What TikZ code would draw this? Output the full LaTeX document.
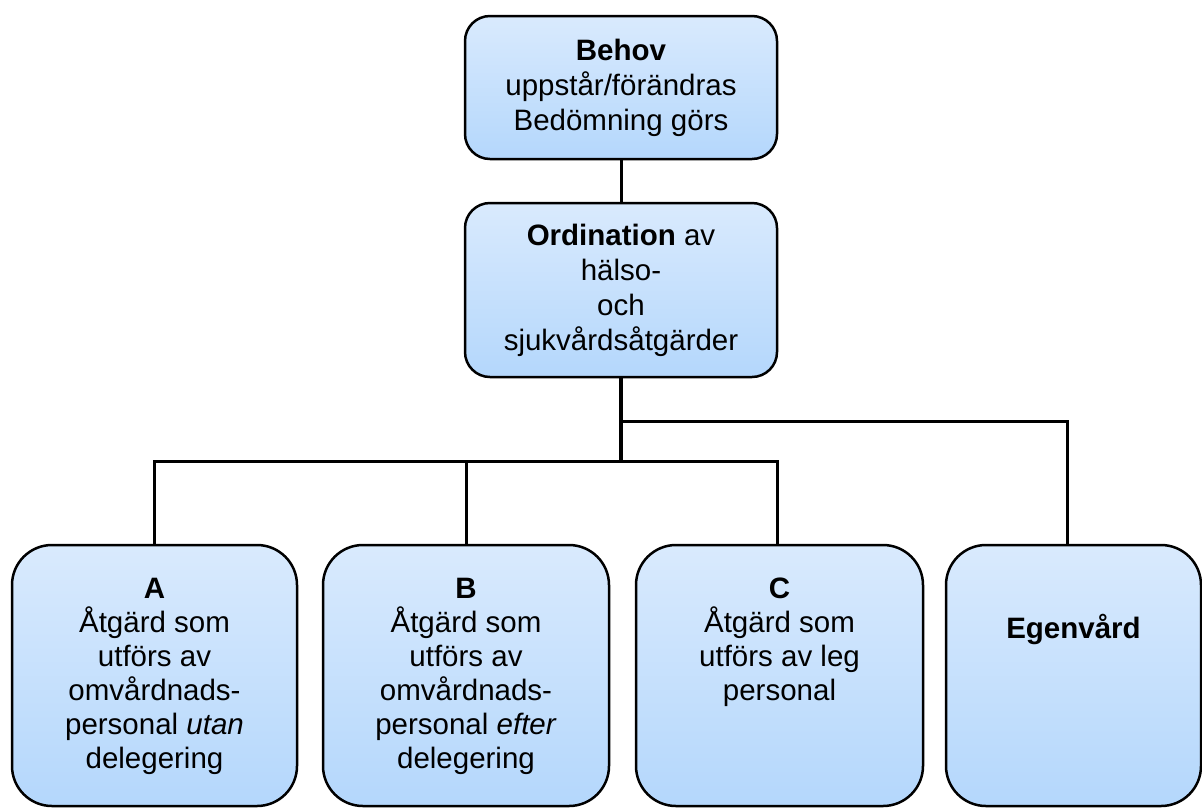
\documentclass[tikz,border=0pt]{standalone}
\usepackage{fontspec}
\setmainfont{Liberation Sans}
\usetikzlibrary{positioning}
\definecolor{boxtop}{RGB}{217,234,253}
\definecolor{boxbottom}{RGB}{180,215,252}

\begin{document}
\begin{tikzpicture}[x=1pt,y=-1pt,
  box/.style={draw,line width=2.5pt,rounded corners=25pt,top color=boxtop,bottom color=boxbottom,
    align=center,inner sep=0pt,font=\fontsize{29.5}{35}\selectfont},
  taskbox/.style={box,rounded corners=40pt,minimum height=261pt},
  tasktext/.style={align=center,inner sep=0pt,font=\fontsize{29.5}{34}\selectfont},
  link/.style={draw,line width=3pt}]
\useasboundingbox (0,0) rectangle (1202,807);
\node[box,minimum width=312pt,minimum height=143pt] (behov) at (621,87.5)
  {\textbf{Behov}\\uppstår/förändras\\Bedömning görs};
\node[box,minimum width=312pt,minimum height=174pt] (ordination) at (621,290)
  {\textbf{Ordination} av\\hälso-\\och\\sjukvårdsåtgärder};
\node[taskbox,minimum width=285pt] (taskA) at (154.5,675.5) {};
\node[taskbox,minimum width=286pt] (taskB) at (466,675.5) {};
\node[taskbox,minimum width=287pt] (taskC) at (779.5,675.5) {};
\node[taskbox,minimum width=255pt] (egen) at (1073.5,675.5) {};
\node[tasktext,below=34pt of taskA.north] (textA)
  {\textbf{A}\\Åtgärd som\\utförs av\\omvårdnads-\\personal \textit{utan}\\delegering};
\node[tasktext,below=34pt of taskB.north] (textB)
  {\textbf{B}\\Åtgärd som\\utförs av\\omvårdnads-\\personal \textit{efter}\\delegering};
\node[tasktext,below=34pt of taskC.north] (textC)
  {\textbf{C}\\Åtgärd som\\utförs av leg\\personal};
\node[tasktext,below=70pt of egen.north] (textE) {\textbf{Egenvård}};
\coordinate (fork) at (621,461);
\coordinate (forkE) at (621,421);
\draw[link] (behov) -- (ordination);
\draw[link,line width=3.6pt] (ordination) -- (fork);
\draw[link] (taskA.north) |- (fork) -| ([xshift=-2.5pt]taskC.north);
\draw[link] (taskB.north) -- (taskB.north |- fork);
\draw[link] (forkE) -| ([xshift=-6.5pt]egen.north);
\end{tikzpicture}
\end{document}
